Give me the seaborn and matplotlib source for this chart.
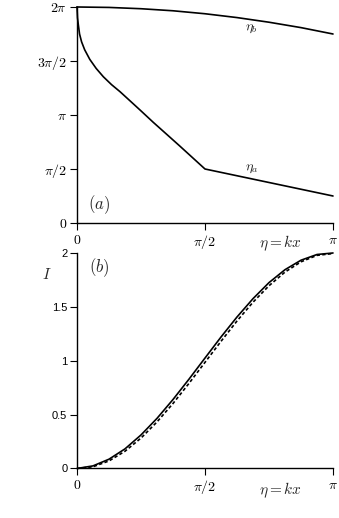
import numpy as np
import pandas as pd
import matplotlib
matplotlib.use("Agg")
import matplotlib.pyplot as plt
import seaborn as sns

PI = np.pi

# -----------------------------
# Data (in units of pi where noted)
# -----------------------------
# panel (a): eta_b, upper branch
eta_b_x = [0, 0.125, 0.25, 0.375, 0.5, 0.625, 0.75, 0.875, 1.0]
eta_b_y = [2.0, 1.996, 1.984, 1.965, 1.9375, 1.902, 1.859, 1.809, 1.75]

# panel (a): eta_a, lower branch with a kink at pi/2
eta_a_x = [0, 0.002, 0.005, 0.01, 0.018, 0.03, 0.05, 0.075, 0.103, 0.135,
           0.168, 0.21, 0.25, 0.298, 0.35, 0.4, 0.45, 0.5, 1.0]
eta_a_y = [2.0, 1.90, 1.84, 1.75, 1.677, 1.604, 1.515, 1.431, 1.354, 1.281,
           1.216, 1.125, 1.038, 0.932, 0.822, 0.716, 0.608, 0.5, 0.25]

# panel (b): I vs eta (x in units of pi)
i_x = [k / 16 for k in range(17)]
i_solid = [0, 0.024, 0.086, 0.182, 0.311, 0.465, 0.640, 0.829, 1.025,
           1.220, 1.406, 1.576, 1.725, 1.845, 1.933, 1.986, 2.0]
i_dashed = [0, 0.016, 0.070, 0.160, 0.282, 0.432, 0.603, 0.790, 0.985,
            1.180, 1.369, 1.543, 1.696, 1.823, 1.918, 1.978, 1.995]

top_ticks = [0, 0.5, 1.0, 1.5, 2.0]
top_ticklabels = ["$0$", r"$\pi/2$", r"$\pi$", r"$3\pi/2$", r"$2\pi$"]
x_ticks = [0, 0.5, 1.0]
x_ticklabels = ["$0$", r"$\pi/2$", r"$\pi$"]
bottom_ticks = [0, 0.5, 1, 1.5, 2]
bottom_ticklabels = ["0", "0.5", "1", "1.5", "2"]

# -----------------------------
# Style
# -----------------------------
sns.set_style("ticks")
plt.rcParams["mathtext.fontset"] = "cm"
plt.rcParams["font.family"] = ["Liberation Sans", "DejaVu Sans"]
plt.rcParams["axes.linewidth"] = 1.0
plt.rcParams["xtick.major.size"] = 5
plt.rcParams["ytick.major.size"] = 5
plt.rcParams["xtick.major.pad"] = 2
plt.rcParams["ytick.major.pad"] = 2
plt.rcParams["xtick.color"] = "black"
plt.rcParams["ytick.color"] = "black"
plt.rcParams["axes.edgecolor"] = "black"

fig = plt.figure(figsize=(3.39, 5.18), dpi=100)
ax_a = fig.add_axes([0.2271, 0.5695, 0.7552, 0.417])
ax_b = fig.add_axes([0.2271, 0.0956, 0.7552, 0.416])

# -----------------------------
# Panel (a)
# -----------------------------
df_b = pd.DataFrame({"x": np.array(eta_b_x) * PI, "y": np.array(eta_b_y) * PI})
df_a = pd.DataFrame({"x": np.array(eta_a_x) * PI, "y": np.array(eta_a_y) * PI})

sns.lineplot(data=df_b, x="x", y="y", ax=ax_a, color="black", lw=1.2,
             sort=False, clip_on=False)
sns.lineplot(data=df_a, x="x", y="y", ax=ax_a, color="black", lw=1.2,
             sort=False, clip_on=False)

ax_a.set_xlim(0, PI)
ax_a.set_ylim(0, 2 * PI)
ax_a.set_xticks(np.array(x_ticks) * PI)
ax_a.set_xticklabels(x_ticklabels, fontsize=10)
ax_a.set_yticks(np.array(top_ticks) * PI)
ax_a.set_yticklabels(top_ticklabels, fontsize=10)
ax_a.set_xlabel("")
ax_a.set_ylabel("")

ax_a.text(0.682 * PI, 1.806 * PI, r"$\eta_b$", fontsize=10, ha="center", va="center")
ax_a.text(0.682 * PI, 0.509 * PI, r"$\eta_a$", fontsize=10, ha="center", va="center")
ax_a.text(0.087 * PI, 0.167 * PI, r"$(a)$", fontsize=12, ha="center", va="center")
ax_a.text(0.793, -0.093, r"$\eta = kx$", fontsize=11, ha="center", va="center",
          transform=ax_a.transAxes)

# -----------------------------
# Panel (b)
# -----------------------------
df_i = pd.DataFrame({
    "x": np.array(i_x) * PI,
    "solid": i_solid,
    "dashed": i_dashed,
})

sns.lineplot(data=df_i, x="x", y="solid", ax=ax_b, color="black", lw=1.2,
             clip_on=False)
sns.lineplot(data=df_i, x="x", y="dashed", ax=ax_b, color="black", lw=1.2,
             linestyle=(0, (2, 1.4)), clip_on=False)

ax_b.set_xlim(0, PI)
ax_b.set_ylim(0, 2)
ax_b.set_xticks(np.array(x_ticks) * PI)
ax_b.set_xticklabels(x_ticklabels, fontsize=10)
ax_b.set_yticks(bottom_ticks)
ax_b.set_yticklabels(bottom_ticklabels, fontsize=8)
ax_b.set_xlabel("")
ax_b.set_ylabel("")

ax_b.text(0.087 * PI, 1.865, r"$(b)$", fontsize=12, ha="center", va="center")
ax_b.text(-0.117, 0.898, r"$I$", fontsize=11, ha="center", va="center",
          transform=ax_b.transAxes)
ax_b.text(0.793, -0.1, r"$\eta = kx$", fontsize=11, ha="center", va="center",
          transform=ax_b.transAxes)

sns.despine(fig=fig)

plt.savefig("out.png", dpi=100)
plt.close()
